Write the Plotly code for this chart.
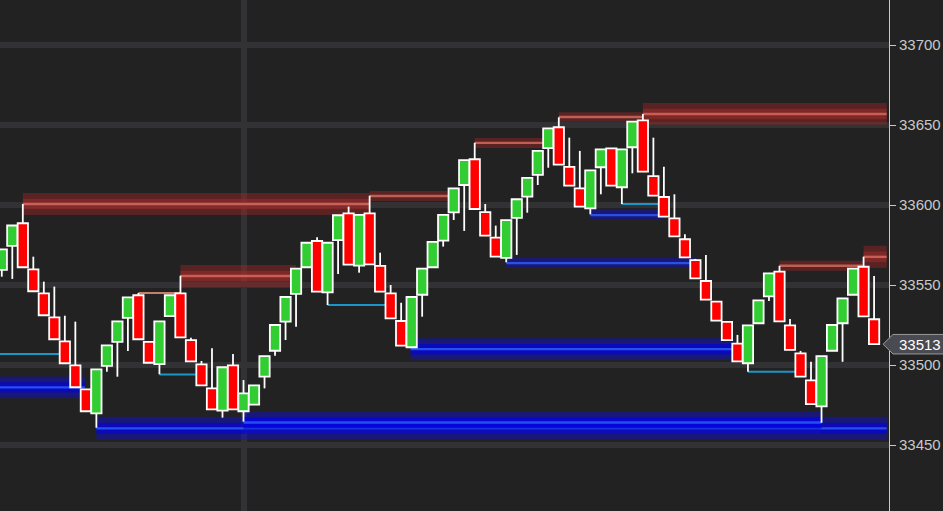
import plotly.graph_objects as go

# ---------------- data ----------------
opens = [33559.4, 33574.4, 33588.6, 33559.8, 33544.8, 33529.8, 33514.8, 33499.8, 33484.8, 33469.8,
         33499.4, 33514.4, 33529.4, 33543.6, 33514.4, 33500.6, 33530.6, 33544.8, 33515.6, 33500.4,
         33485.4, 33471.5, 33499.8, 33471.1, 33475.2, 33492.7, 33508.9, 33527.1, 33544.4, 33561.1,
         33577.5, 33545.4, 33578.1, 33594.8, 33562.1, 33594.8, 33561.9, 33544.8, 33527.5, 33511.1,
         33543.9, 33561.1, 33577.7, 33595.4, 33612.5, 33628.6, 33595.6, 33579.6, 33566.9, 33591.9,
         33605.2, 33618.8, 33635.6, 33648.6, 33623.8, 33610.4, 33597.9, 33623.6, 33635.4, 33611.1,
         33636.1, 33652.9, 33618.1, 33605.0, 33591.7, 33578.6, 33565.6, 33552.5, 33539.6, 33526.9,
         33513.3, 33501.1, 33526.1, 33542.9, 33558.3, 33524.8, 33507.3, 33490.4, 33474.2, 33508.9,
         33526.1, 33543.9, 33561.4, 33528.6]
highs = [33572.5, 33587.2, 33600.6, 33567.7, 33552.1, 33549.0, 33530.8, 33527.1, 33484.8, 33497.3,
         33512.3, 33527.3, 33542.3, 33545.0, 33514.4, 33527.3, 33543.6, 33555.8, 33517.0, 33502.5,
         33510.4, 33498.6, 33506.9, 33490.6, 33487.3, 33505.6, 33525.0, 33542.5, 33560.2, 33576.4,
         33579.8, 33576.4, 33593.6, 33599.0, 33593.8, 33605.8, 33570.2, 33550.0, 33538.9, 33542.5,
         33560.2, 33576.9, 33593.8, 33610.4, 33628.1, 33638.9, 33600.6, 33587.1, 33590.6, 33603.6,
         33616.9, 33633.8, 33647.9, 33654.8, 33642.1, 33633.8, 33621.7, 33634.8, 33635.4, 33634.8,
         33652.1, 33656.9, 33642.1, 33623.9, 33606.7, 33581.7, 33566.3, 33568.8, 33539.6, 33526.9,
         33518.8, 33524.8, 33540.4, 33557.3, 33562.0, 33528.8, 33508.8, 33502.0, 33505.6, 33525.0,
         33541.7, 33560.2, 33567.7, 33555.6]
lows = [33555.2, 33553.8, 33561.1, 33546.1, 33531.1, 33516.1, 33501.1, 33486.1, 33471.1, 33460.8,
        33495.8, 33492.7, 33508.8, 33516.1, 33501.4, 33494.2, 33530.6, 33517.3, 33502.3, 33487.3,
        33472.3, 33467.1, 33472.3, 33464.6, 33475.2, 33485.4, 33505.8, 33515.6, 33523.9, 33561.1,
        33545.8, 33537.5, 33556.9, 33562.7, 33557.7, 33562.9, 33545.8, 33529.2, 33512.1, 33511.1,
        33530.2, 33561.1, 33574.0, 33590.6, 33583.8, 33597.5, 33580.8, 33567.7, 33564.2, 33568.8,
        33595.2, 33612.5, 33623.3, 33625.2, 33612.1, 33599.0, 33594.2, 33606.7, 33612.1, 33600.6,
        33619.8, 33620.8, 33605.8, 33592.7, 33580.4, 33567.3, 33554.2, 33540.8, 33527.7, 33515.6,
        33502.3, 33495.8, 33526.1, 33540.0, 33527.3, 33509.4, 33492.7, 33475.6, 33463.9, 33508.9,
        33502.0, 33543.9, 33530.4, 33513.0]
closes = [33572.3, 33587.2, 33561.1, 33546.1, 33531.1, 33516.1, 33501.1, 33486.1, 33471.1, 33497.3,
          33512.3, 33527.3, 33542.3, 33516.1, 33501.4, 33527.3, 33543.6, 33517.3, 33502.3, 33487.3,
          33472.3, 33498.6, 33472.3, 33482.3, 33487.3, 33505.6, 33525.0, 33542.5, 33560.2, 33576.4,
          33545.8, 33576.4, 33593.6, 33562.7, 33593.8, 33562.9, 33545.8, 33529.2, 33512.1, 33542.5,
          33560.2, 33576.9, 33593.8, 33610.4, 33628.1, 33597.5, 33580.8, 33567.7, 33590.6, 33603.6,
          33616.9, 33633.8, 33647.9, 33625.2, 33612.1, 33599.0, 33621.7, 33634.8, 33612.1, 33634.8,
          33652.1, 33620.8, 33605.8, 33592.7, 33580.4, 33567.3, 33554.2, 33540.8, 33527.7, 33515.6,
          33502.3, 33524.8, 33540.4, 33557.3, 33527.3, 33509.4, 33492.7, 33475.6, 33505.6, 33525.0,
          33541.7, 33560.2, 33530.4, 33513.0]
bar_index = list(range(len(opens)))

y_ticks = [33450, 33500, 33550, 33600, 33650, 33700]
session_break = [23]

# resistance zones (red): start bar, end bar, level, half height
res_start = [2, 35, 17, 45, 53, 61, 74, 82]
res_end = [35, 42.5, 28, 51.5, 61, 84.2, 81.9, 84.2]
res_level = [33600.6, 33605.6, 33555.6, 33638.8, 33655.0, 33656.9, 33562.0, 33567.6]
res_half = [6.9, 3.1, 6.9, 3.1, 2.9, 6.8, 3.1, 6.9]

# support zones (blue)
sup_start = [-1, 9, 23, 38.9, 48, 56]
sup_end = [7.9, 84.2, 78, 69.7, 66.1, 62.9]
sup_level = [33486.0, 33460.4, 33464.1, 33509.9, 33563.7, 33593.7]
sup_half = [6.75, 7.2, 7.2, 6.8, 3.1, 3.1]

# thin levels
cyan_start = [-1, 15, 31, 59, 71]
cyan_end = [5.5, 18.6, 36.5, 62.9, 75.5]
cyan_level = [33506.8, 33494.0, 33537.5, 33600.6, 33495.8]
salmon_start = [13]
salmon_end = [17]
salmon_level = [33545.0]

UP = '#32cd32'
DOWN = '#ff0000'

# ---------------- figure ----------------
body_base = [min(o, c) for o, c in zip(opens, closes)]
body_len = [abs(c - o) for o, c in zip(opens, closes)]
body_col = [UP if c >= o else DOWN for o, c in zip(opens, closes)]

wick_x, wick_y = [], []
for i, o, h, l, c in zip(bar_index, opens, highs, lows, closes):
    top, bot = max(o, c), min(o, c)
    if h > top:
        wick_x += [i, i, None]
        wick_y += [top, h, None]
    if l < bot:
        wick_x += [i, i, None]
        wick_y += [bot, l, None]

fig = go.Figure()
fig.add_trace(go.Bar(x=bar_index, y=body_len, base=body_base, width=0.98,
                     marker=dict(color=body_col, line=dict(color='#ffffff', width=1.8)),
                     hoverinfo='skip', showlegend=False))
fig.add_trace(go.Scatter(x=wick_x, y=wick_y, mode='lines', line=dict(color='#ffffff', width=1.8),
                         hoverinfo='skip', showlegend=False))

shapes = []


def zone(x0, x1, lvl, half, c_outer, c_mid, c_line, wide):
    shapes.append(dict(type='rect', xref='x', yref='y', x0=x0, x1=x1, y0=lvl - half, y1=lvl + half,
                       fillcolor=c_outer, line=dict(width=0), layer='between'))
    if wide:
        shapes.append(dict(type='rect', xref='x', yref='y', x0=x0, x1=x1, y0=lvl - half * 0.48,
                           y1=lvl + half * 0.48, fillcolor=c_mid, line=dict(width=0), layer='between'))
    shapes.append(dict(type='rect', xref='x', yref='y', x0=x0, x1=x1, y0=lvl - 0.75, y1=lvl + 0.75,
                       fillcolor=c_line, line=dict(width=0), layer='between'))


for a, b, lv, h in zip(res_start, res_end, res_level, res_half):
    zone(a, b, lv, h, 'rgba(160,38,38,0.45)', 'rgba(175,45,45,0.41)', 'rgba(225,115,100,0.75)', h > 5)

for a, b, lv, h in zip(sup_start, sup_end, sup_level, sup_half):
    zone(a, b, lv, h, 'rgba(15,15,200,0.5)', 'rgba(0,0,230,0.6)', 'rgba(45,95,255,0.8)', h > 5)

for a, b, lv in zip(cyan_start, cyan_end, cyan_level):
    shapes.append(dict(type='line', xref='x', yref='y', x0=a, x1=b, y0=lv, y1=lv,
                       line=dict(color='#1a96c8', width=2), layer='between'))
for a, b, lv in zip(salmon_start, salmon_end, salmon_level):
    shapes.append(dict(type='line', xref='x', yref='y', x0=a, x1=b, y0=lv, y1=lv,
                       line=dict(color='#c4806c', width=2), layer='between'))

# last price tag on the axis
last = closes[-1]
tag_h = 6.1
shapes.append(dict(type='path', xref='paper', yref='y', layer='above',
                   path=(f"M 0.9933,{last} L 1.0045,{last + tag_h} L 1.08,{last + tag_h} "
                         f"L 1.08,{last - tag_h} L 1.0045,{last - tag_h} Z"),
                   fillcolor='#4a4a52', line=dict(color='#9a9a9a', width=1)))

font_fam = 'Liberation Sans, Arial, sans-serif'

fig.update_layout(
    template='none',
    width=943, height=511,
    margin=dict(l=0, r=54, t=0, b=0),
    paper_bgcolor='#222222', plot_bgcolor='#222222',
    barmode='overlay',
    showlegend=False,
    shapes=shapes,
    annotations=[dict(xref='paper', yref='y', x=1.0085, y=last, xanchor='left', yanchor='middle',
                      text=f"{last:.0f}", showarrow=False,
                      font=dict(family=font_fam, size=15, color='#ffffff'))],
    xaxis=dict(range=[-0.17, 84.42], showticklabels=False,
               ticks='', tickvals=session_break, showgrid=True, gridcolor='#323234', gridwidth=6,
               zeroline=False, showline=False, fixedrange=True),
    yaxis=dict(side='right', range=[33408.75, 33728.125], tickvals=y_ticks,
               ticktext=[str(v) for v in y_ticks], showgrid=True, gridcolor='#323234', gridwidth=6,
               zeroline=False, showline=True, linecolor='#c8c8c8', linewidth=1, ticks='outside',
               ticklen=6, tickwidth=1, tickcolor='#c8c8c8', automargin=False,
               tickfont=dict(family=font_fam, size=15, color='#c8c8c8'), fixedrange=True),
)

fig.write_html("out.html", config=dict(displayModeBar=False),
               post_script="document.body.style.margin='0';document.body.style.padding='0';"
                           "document.body.style.background='#222222';")
